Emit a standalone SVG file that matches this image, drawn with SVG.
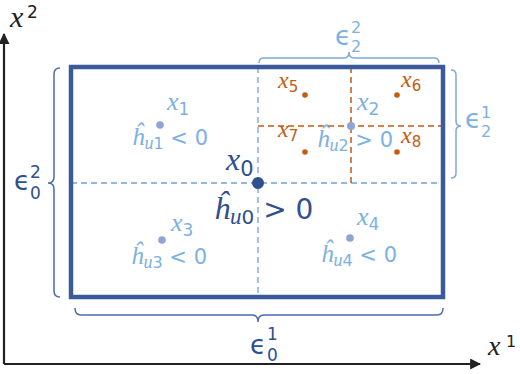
<svg xmlns="http://www.w3.org/2000/svg" width="520" height="374" viewBox="0 0 520 374">
<defs>
<marker id="arr" viewBox="0 0 10 10" refX="9" refY="5" markerWidth="5" markerHeight="5" orient="auto" markerUnits="strokeWidth">
<path d="M0,0 L10,5 L0,10 z" fill="#222"/>
</marker>
<style>
.ax{stroke:#222;stroke-width:2.2;fill:none}
.dl{stroke:#6FA3DC;stroke-width:1.3;stroke-dasharray:6 4;fill:none}
.do{stroke:#C55A11;stroke-width:1.5;stroke-dasharray:6 4;fill:none}
.bd{stroke:#4A6BAE;stroke-width:1.5;fill:none}
.bl{stroke:#7FA8DC;stroke-width:1.5;fill:none}
.v{font-family:"Liberation Serif",serif;font-style:italic}
.n{font-family:"DejaVu Sans",sans-serif;font-style:normal}
.dark{fill:#2F4F8F}
.light{fill:#7DB0E3}
.or{fill:#C55A11}
.blk{fill:#222}
</style>
</defs>
<g id="axes">
<path class="ax" d="M4,364 L4,34" marker-end="url(#arr)"/>
<path class="ax" d="M4,364 L480,364" marker-end="url(#arr)"/>
<text class="v blk" x="10" y="27" font-size="30">x</text>
<text class="n blk" x="27" y="18" font-size="17">2</text>
<text class="v blk" x="488" y="355" font-size="28">x</text>
<text class="n blk" x="506" y="347" font-size="16">1</text>
</g>
<g id="connectors">
<path class="dl" d="M258,67 L258,297"/>
<path class="dl" d="M71,183 L443,183"/>
<path class="do" d="M351,67 L351,183"/>
<path class="do" d="M258,126 L443,126"/>
<path class="bd" d="M60,68 Q54,68 54,74 L54,177 Q54,183 48,183 Q54,183 54,189 L54,291 Q54,297 60,297"/>
<path class="bd" d="M75,308 Q75,315 81,315 L252,315 Q258,315 258,322 Q258,315 264,315 L437,315 Q443,315 443,308"/>
<path class="bl" d="M259,63 Q259,58 264,58 L344,58 Q349,58 349,52 Q349,58 354,58 L434,58 Q439,58 439,63"/>
<path class="bl" d="M451,70 Q456,70 456,75 L456,121 Q456,126 461,126 Q456,126 456,131 L456,173 Q456,178 451,178"/>
</g>
<g id="region">
<rect x="71" y="67" width="372" height="230" fill="none" stroke="#3B5A9A" stroke-width="4.5"/>
</g>
<g id="eps0_2">
<text class="n dark" x="14" y="190" font-size="26">ϵ</text>
<text class="n dark" x="30" y="178" font-size="17">2</text>
<text class="n dark" x="30" y="199" font-size="17">0</text>
</g>
<g id="eps0_1">
<text class="n dark" x="250" y="354" font-size="26">ϵ</text>
<text class="n dark" x="267" y="340" font-size="17">1</text>
<text class="n dark" x="267" y="361" font-size="17">0</text>
</g>
<g id="eps2_2">
<text class="n light" x="335" y="45" font-size="26">ϵ</text>
<text class="n light" x="351" y="33" font-size="16">2</text>
<text class="n light" x="351" y="52" font-size="16">2</text>
</g>
<g id="eps2_1">
<text class="n light" x="465" y="128" font-size="26">ϵ</text>
<text class="n light" x="481" y="118" font-size="16">1</text>
<text class="n light" x="481" y="137" font-size="16">2</text>
</g>
<g id="x0">
<circle cx="258" cy="183" r="6" fill="#2F4F8F"/>
<text class="v dark" x="226" y="170" font-size="32">x<tspan class="n" font-size="21" dy="6">0</tspan></text>
<text class="v dark" x="214" y="219" font-size="32">ĥ<tspan font-size="23" dy="5">u</tspan><tspan class="n" font-size="20">0</tspan><tspan class="n" font-size="28" dy="-5"> &gt; 0</tspan></text>
</g>
<g id="x1">
<circle cx="160" cy="125" r="3.8" fill="#8FA3D8"/>
<text class="v light" x="167" y="110" font-size="26">x<tspan class="n" font-size="17" dy="5">1</tspan></text>
<text class="v light" x="132" y="145" font-size="25">ĥ<tspan font-size="18" dy="4">u</tspan><tspan class="n" font-size="16">1</tspan><tspan class="n" font-size="21" dy="-4"> &lt; 0</tspan></text>
</g>
<g id="x2">
<circle cx="351" cy="126" r="4" fill="#8FA3D8"/>
<text class="v light" x="357" y="110" font-size="26">x<tspan class="n" font-size="17" dy="5">2</tspan></text>
<text class="v light" x="317" y="147" font-size="25">ĥ<tspan font-size="18" dy="4">u</tspan><tspan class="n" font-size="16">2</tspan><tspan class="n" font-size="21" dy="-4"> &gt; 0</tspan></text>
</g>
<g id="x3">
<circle cx="162" cy="240" r="3.8" fill="#8FA3D8"/>
<text class="v light" x="171" y="231" font-size="26">x<tspan class="n" font-size="17" dy="5">3</tspan></text>
<text class="v light" x="131" y="264" font-size="25">ĥ<tspan font-size="18" dy="4">u</tspan><tspan class="n" font-size="16">3</tspan><tspan class="n" font-size="21" dy="-4"> &lt; 0</tspan></text>
</g>
<g id="x4">
<circle cx="350" cy="238" r="3.8" fill="#8FA3D8"/>
<text class="v light" x="357" y="225" font-size="26">x<tspan class="n" font-size="17" dy="5">4</tspan></text>
<text class="v light" x="321" y="262" font-size="25">ĥ<tspan font-size="18" dy="4">u</tspan><tspan class="n" font-size="16">4</tspan><tspan class="n" font-size="21" dy="-4"> &lt; 0</tspan></text>
</g>
<g id="x5">
<circle cx="305" cy="95" r="2.8" fill="#C55A11"/>
<text class="v or" x="278" y="88" font-size="24">x<tspan class="n" font-size="15" dy="4">5</tspan></text>
</g>
<g id="x6">
<circle cx="397" cy="95" r="2.8" fill="#C55A11"/>
<text class="v or" x="401" y="87" font-size="24">x<tspan class="n" font-size="15" dy="4">6</tspan></text>
</g>
<g id="x7">
<circle cx="305" cy="152" r="2.8" fill="#C55A11"/>
<text class="v or" x="278" y="137" font-size="24">x<tspan class="n" font-size="15" dy="4">7</tspan></text>
</g>
<g id="x8">
<circle cx="397" cy="152" r="2.8" fill="#C55A11"/>
<text class="v or" x="401" y="143" font-size="24">x<tspan class="n" font-size="15" dy="4">8</tspan></text>
</g>
</svg>
